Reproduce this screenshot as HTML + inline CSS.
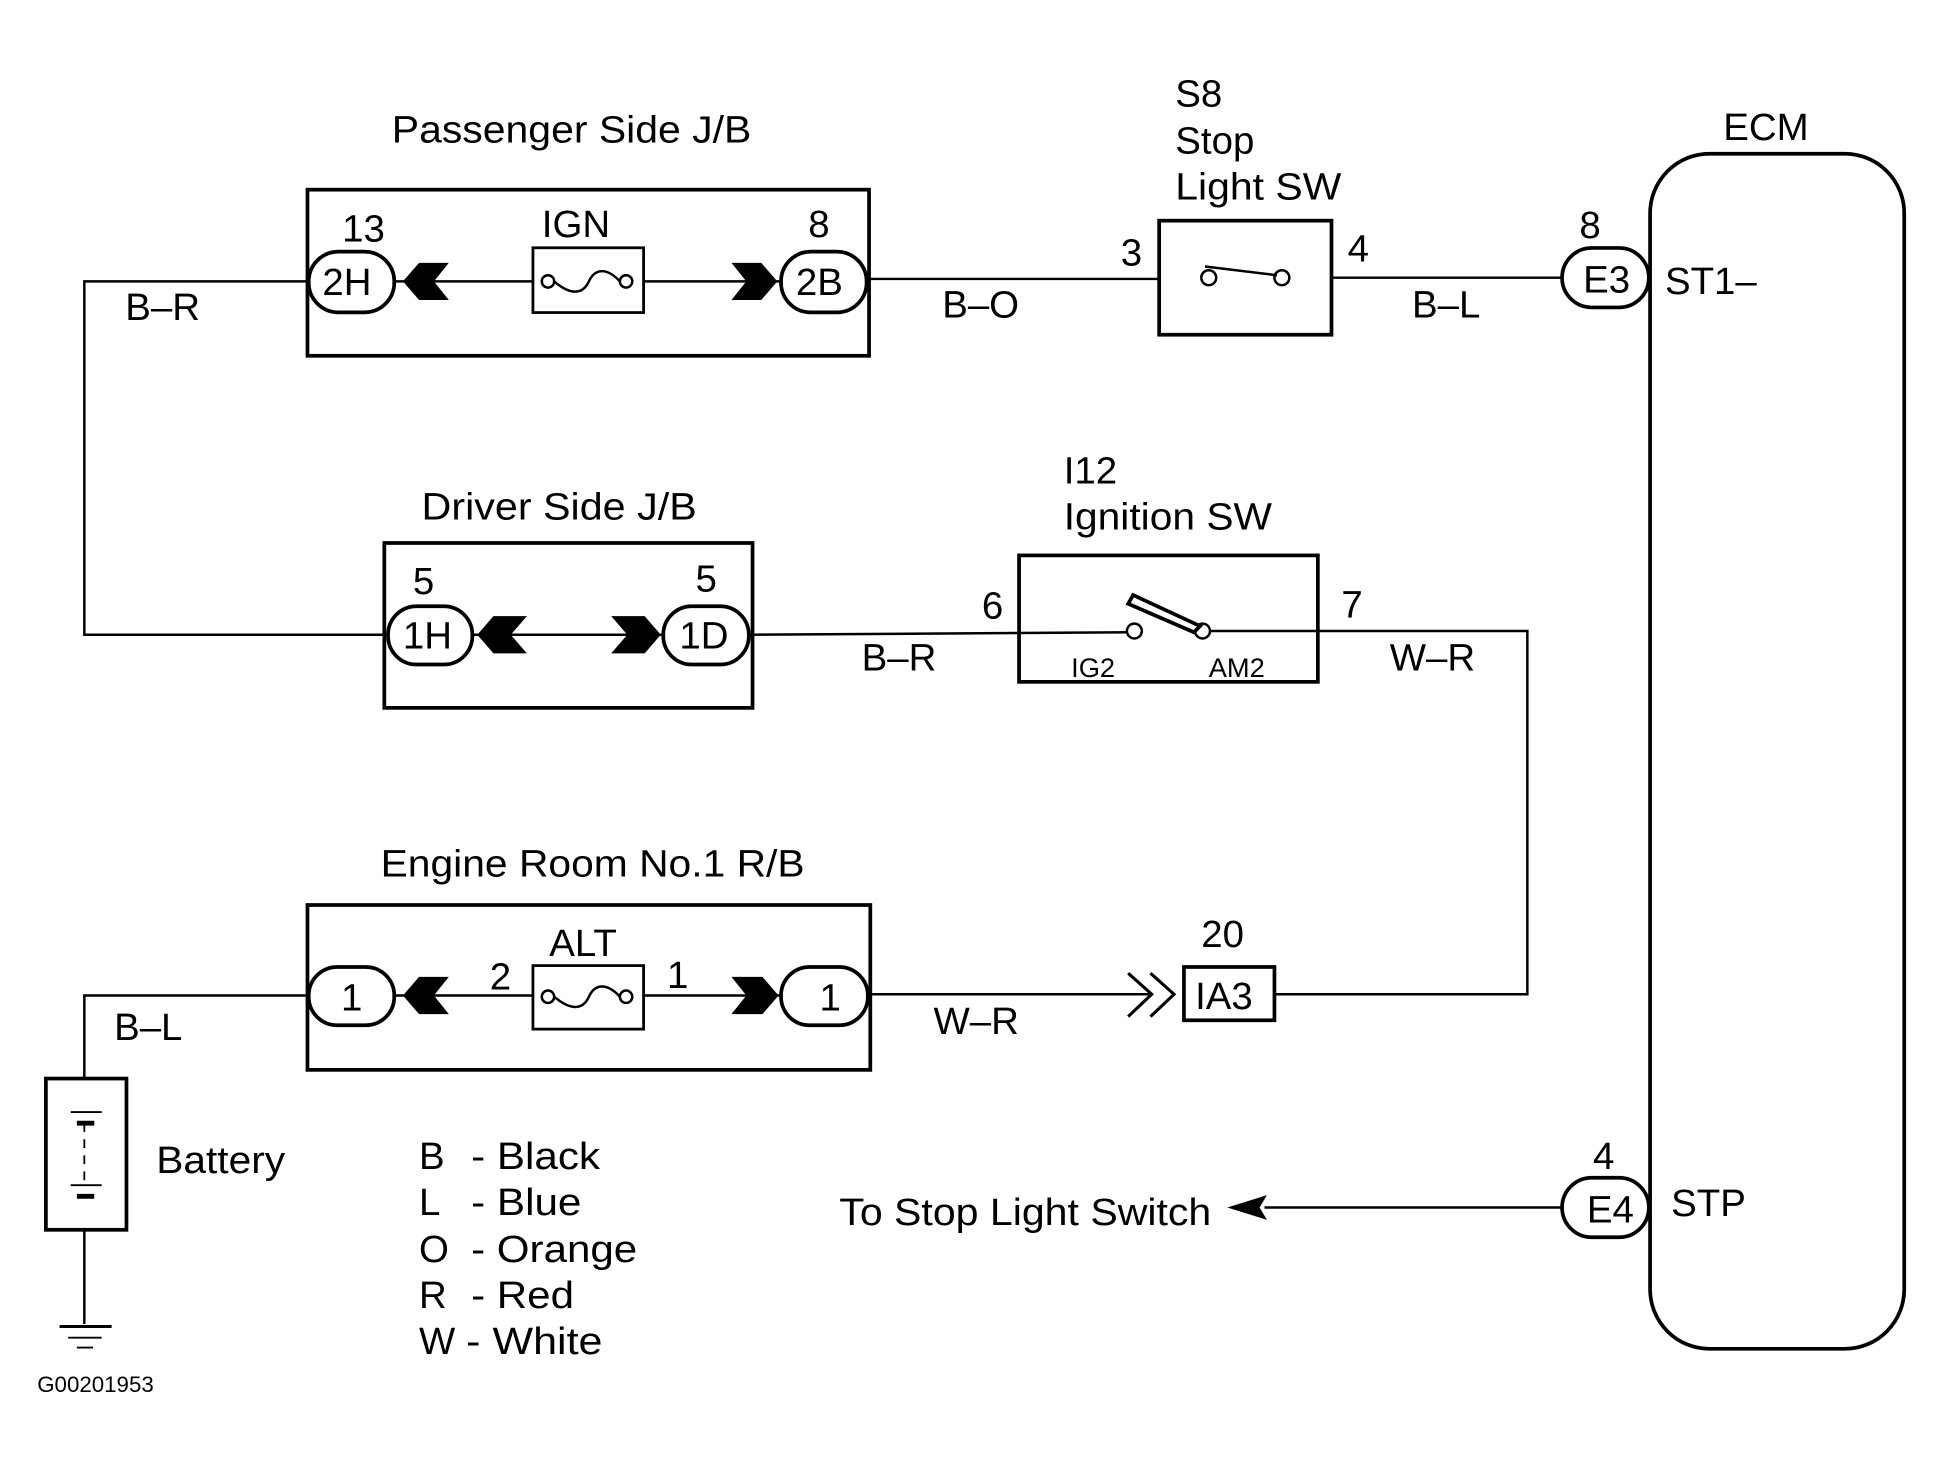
<!DOCTYPE html>
<html><head><meta charset="utf-8"><style>html,body{margin:0;padding:0;background:#fff}svg{display:block}</style></head>
<body>
<svg width="1934" height="1462" viewBox="0 0 1560 1179.3" xmlns="http://www.w3.org/2000/svg" font-family="Liberation Sans, sans-serif" fill="#000">
<g fill="none" stroke="#000" stroke-width="2">
<polyline points="248,227 68,227 68,512 312,512"/>
<line x1="318" y1="227" x2="630" y2="227"/>
<line x1="700" y1="225" x2="935" y2="225"/>
<line x1="1074" y1="224" x2="1260" y2="224"/>
<line x1="381" y1="512" x2="535" y2="512"/>
<line x1="604" y1="512" x2="915" y2="510"/>
<polyline points="970,509 1232,509 1232,802 1028,802"/>
<line x1="700" y1="802" x2="930" y2="802"/>
<line x1="318" y1="803" x2="630" y2="803"/>
<polyline points="249,803 68,803 68,870"/>
<line x1="68" y1="992" x2="68" y2="1068"/>
<line x1="1020" y1="974" x2="1260" y2="974"/>
</g>
<g fill="none" stroke="#000" stroke-width="3">
<rect x="248" y="153" width="453" height="134"/>
<rect x="310" y="438" width="297" height="133"/>
<rect x="248" y="730" width="454" height="133"/>
<rect x="935" y="178" width="139" height="92"/>
<rect x="822" y="448" width="241" height="102"/>
<rect x="955" y="780" width="73" height="43"/>
<rect x="1331" y="124" width="205" height="964" rx="48"/>
<rect x="37" y="870" width="65" height="122"/>
<rect x="430" y="200" width="89" height="52" stroke-width="2.5"/>
<rect x="430" y="779" width="89" height="51" stroke-width="2.5"/>
<rect x="249" y="203" width="69" height="49" rx="24"/>
<rect x="630" y="203" width="69" height="49" rx="24"/>
<rect x="313" y="489" width="68" height="47" rx="23"/>
<rect x="535" y="489" width="69" height="47" rx="23"/>
<rect x="249" y="780" width="69" height="47" rx="23"/>
<rect x="630" y="780" width="70" height="47" rx="23"/>
<rect x="1260" y="200" width="70" height="48" rx="24"/>
<rect x="1260" y="950" width="70" height="48" rx="24"/>
</g>
<g fill="none" stroke="#000" stroke-width="2">
<line x1="430" y1="227" x2="519" y2="227"/><line x1="430" y1="803" x2="519" y2="803"/>
</g>
<g fill="#fff" stroke="#000" stroke-width="2">
<rect x="431" y="201" width="87" height="50" stroke="none"/>
<rect x="431" y="780" width="87" height="49" stroke="none"/>
<circle cx="442" cy="227" r="5"/><circle cx="505" cy="227" r="5"/>
<path d="M447,227 C460,238 470,238 475,227 C480,216 490,216 500,227" fill="none"/>
<circle cx="442" cy="804" r="5"/><circle cx="505" cy="804" r="5"/>
<path d="M447,804 C460,815 470,815 475,804 C480,793 490,793 500,804" fill="none"/>
<circle cx="975" cy="224" r="6"/><circle cx="1034" cy="224" r="6"/>
<line x1="972" y1="215" x2="1030" y2="222"/>
<circle cx="915" cy="509" r="6"/><circle cx="970" cy="509" r="6"/>
</g>
<polygon points="910,487 914,480 968,505 963,510" fill="#fff" stroke="#000" stroke-width="3"/>
<g fill="#000">
<polygon points="325,227 338,212 362,212 350,227 362,242 338,242"/>
<polygon points="627,227 614,212 590,212 602,227 590,242 614,242"/>
<polygon points="385,512 398,497 425,497 412,512 425,527 398,527"/>
<polygon points="533,512 520,497 493,497 506,512 493,527 520,527"/>
<polygon points="325,803 338,788 362,788 350,803 362,818 338,818"/>
<polygon points="628,803 615,788 590,788 602,803 590,818 615,818"/>
<polygon points="990,974 1022,964 1016,974 1022,984"/>
</g>
<g fill="none" stroke="#000" stroke-width="2.5">
<polyline points="910,785 929,802 910,820"/><polyline points="928,785 947,802 928,820"/>
<line x1="57" y1="897" x2="82" y2="897" stroke-width="1.5"/><line x1="62" y1="906" x2="76" y2="906" stroke-width="4"/>
<line x1="57" y1="956" x2="82" y2="956" stroke-width="1.5"/><line x1="62" y1="965" x2="76" y2="965" stroke-width="4"/>
<line x1="68" y1="906" x2="68" y2="953" stroke-dasharray="7,6" stroke-width="1.5"/>
<line x1="48" y1="1070" x2="90" y2="1070"/><line x1="55" y1="1079" x2="82" y2="1079" stroke-width="1.5"/><line x1="62" y1="1087" x2="75" y2="1087" stroke-width="1.5"/>
</g>
<g font-size="31">
<text x="316" y="115" textLength="290" lengthAdjust="spacingAndGlyphs">Passenger Side J/B</text>
<text x="340" y="419" textLength="222" lengthAdjust="spacingAndGlyphs">Driver Side J/B</text>
<text x="307" y="707" textLength="342" lengthAdjust="spacingAndGlyphs">Engine Room No.1 R/B</text>
<text x="948" y="86">S8</text>
<text x="948" y="124">Stop</text>
<text x="948" y="161" textLength="134" lengthAdjust="spacingAndGlyphs">Light SW</text>
<text x="858" y="390">I12</text>
<text x="858" y="427" textLength="168" lengthAdjust="spacingAndGlyphs">Ignition SW</text>
<text x="1390" y="113">ECM</text>
<text x="276" y="195">13</text><text x="437" y="191">IGN</text><text x="652" y="191">8</text>
<text x="333" y="479">5</text><text x="561" y="477">5</text>
<text x="443" y="771">ALT</text><text x="395" y="798">2</text><text x="538" y="797">1</text>
<text x="969" y="764">20</text>
<text x="904" y="214">3</text><text x="1087" y="211">4</text>
<text x="792" y="499">6</text><text x="1082" y="498">7</text>
<text x="1274" y="192">8</text><text x="1285" y="943">4</text>
<text x="1343" y="237">ST1–</text><text x="1348" y="981">STP</text>
<text x="101" y="258">B–R</text><text x="760" y="256">B–O</text><text x="1139" y="256">B–L</text>
<text x="695" y="541">B–R</text><text x="1121" y="541">W–R</text>
<text x="753" y="834">W–R</text><text x="92" y="839">B–L</text>
<text x="126" y="946" textLength="104" lengthAdjust="spacingAndGlyphs">Battery</text>
<text x="677" y="988" textLength="300" lengthAdjust="spacingAndGlyphs">To Stop Light Switch</text>
<text x="338" y="943">B</text><text x="380" y="943" textLength="104" lengthAdjust="spacingAndGlyphs">- Black</text>
<text x="338" y="980">L</text><text x="380" y="980" textLength="89" lengthAdjust="spacingAndGlyphs">- Blue</text>
<text x="338" y="1018">O</text><text x="380" y="1018" textLength="134" lengthAdjust="spacingAndGlyphs">- Orange</text>
<text x="338" y="1055">R</text><text x="380" y="1055" textLength="83" lengthAdjust="spacingAndGlyphs">- Red</text>
<text x="338" y="1092">W</text><text x="376" y="1092" textLength="110" lengthAdjust="spacingAndGlyphs">- White</text>
<text x="260" y="238">2H</text><text x="642" y="238">2B</text>
<text x="325" y="523">1H</text><text x="548" y="523">1D</text>
<text x="275" y="815">1</text><text x="661" y="815">1</text>
<text x="1277" y="236">E3</text><text x="1280" y="986">E4</text>
<text x="964" y="814">IA3</text>
</g>
<text x="864" y="546" font-size="22">IG2</text><text x="975" y="546" font-size="22">AM2</text>
<text x="30" y="1123" font-size="18">G00201953</text>
</svg>
</body></html>
